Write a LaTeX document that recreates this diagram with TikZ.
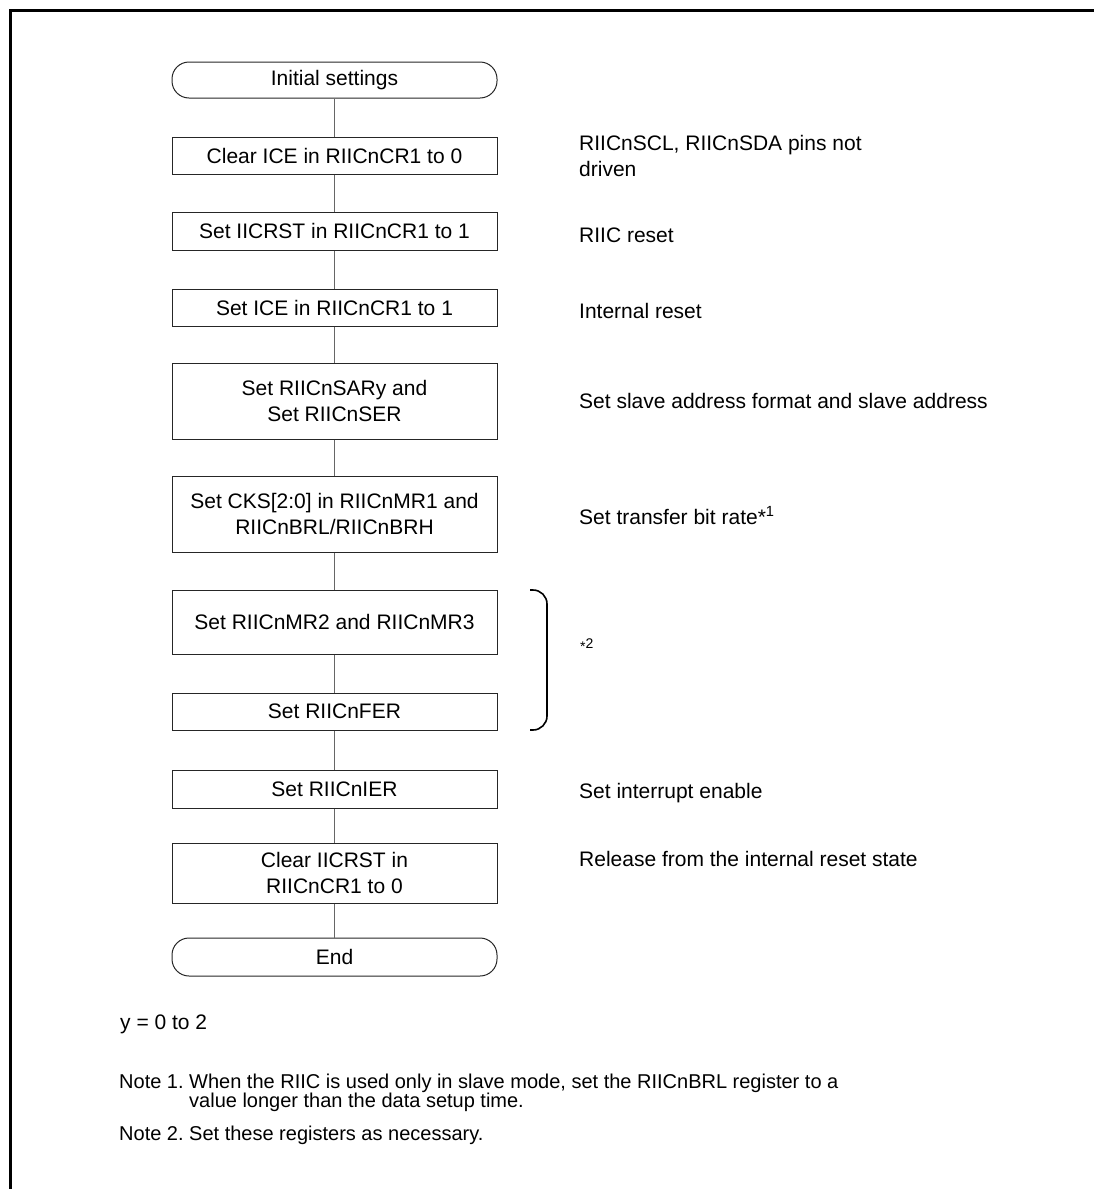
\documentclass[tikz,border=0pt]{standalone}
\usepackage{fontspec}
\setmainfont{Liberation Sans}
\begin{document}
\begin{tikzpicture}[x=1pt,y=-1pt,
  every node/.style={font=\fontsize{21}{25.5}\selectfont},
  procbox/.style={draw=black!85, line width=1pt, minimum width=325pt, align=center, inner sep=0pt},
  termbox/.style={procbox, rounded corners=17pt},
  conn/.style={draw=black!60, line width=1pt},
  label/.style={anchor=base west, align=left, inner sep=0pt},
  notefont/.style={font=\fontsize{20}{20}\selectfont}
]
\useasboundingbox (0,0) rectangle (1093,1189);
\draw[line width=3pt] (10,1195) -- (10,10) -- (1100,10);

\node[termbox, minimum height=36pt] (start) at (334.5,80) {Initial settings};
\node[procbox, minimum height=37pt] (b1) at (334.5,155.5) {Clear ICE in RIICnCR1 to 0};
\node[procbox, minimum height=38pt] (b2) at (334.5,231) {Set IICRST in RIICnCR1 to 1};
\node[procbox, minimum height=37pt] (b3) at (334.5,307.5) {Set ICE in RIICnCR1 to 1};
\node[procbox, minimum height=76pt] (b4) at (334.5,401) {Set RIICnSARy and\\Set RIICnSER};
\node[procbox, minimum height=76pt] (b5) at (334.5,514) {Set CKS[2:0] in RIICnMR1 and\\RIICnBRL/RIICnBRH};
\node[procbox, minimum height=64pt] (b6) at (334.5,622) {Set RIICnMR2 and RIICnMR3};
\node[procbox, minimum height=37pt] (b7) at (334.5,711.5) {Set RIICnFER};
\node[procbox, minimum height=38pt] (b8) at (334.5,789) {Set RIICnIER};
\node[procbox, minimum height=60pt] (b9) at (334.5,873) {Clear IICRST in\\RIICnCR1 to 0};
\node[termbox, minimum height=38pt] (end) at (334.5,957) {End};

\foreach \a/\b in {start/b1,b1/b2,b2/b3,b3/b4,b4/b5,b5/b6,b6/b7,b7/b8,b8/b9,b9/end}
  \draw[conn] (\a.south) -- (\b.north);

\node[label, anchor=west] (l1) at (579,156) {RIICnSCL, RIICnSDA pins not\\driven};
\node[label] (l2) at (579,242.5) {RIIC reset};
\node[label] (l3) at (579,318.5) {Internal reset};
\node[label] (l4) at (579,408.5) {Set slave address format and slave address};
\node[label] (l5) at (579,524.5) {Set transfer bit rate*\textsuperscript{1}};
\node[label, font=\fontsize{14}{14}\selectfont] (l6) at (580,648) {\raisebox{-0.45ex}{*}2};
\node[label] (l7) at (579,798.5) {Set interrupt enable};
\node[label] (l8) at (579,866.5) {Release from the internal reset state};

\coordinate (brt) at (530,590);
\coordinate (brb) at (530,730);
\draw[line width=1.6pt, rounded corners=14pt] (brt) -- (547,590) -- (547,730) -- (brb);

\node[label] (yy) at (120,1029.5) {y = 0 to 2};
\node[label, notefont] (n1) at (119,1088) {Note 1.};
\node[label, notefont] (n1a) at (189,1088) {When the RIIC is used only in slave mode, set the RIICnBRL register to a};
\node[label, notefont] (n1b) at (189,1107) {value longer than the data setup time.};
\node[label, notefont] (n2) at (119,1140) {Note 2.};
\node[label, notefont] (n2a) at (189,1140) {Set these registers as necessary.};
\end{tikzpicture}
\end{document}
